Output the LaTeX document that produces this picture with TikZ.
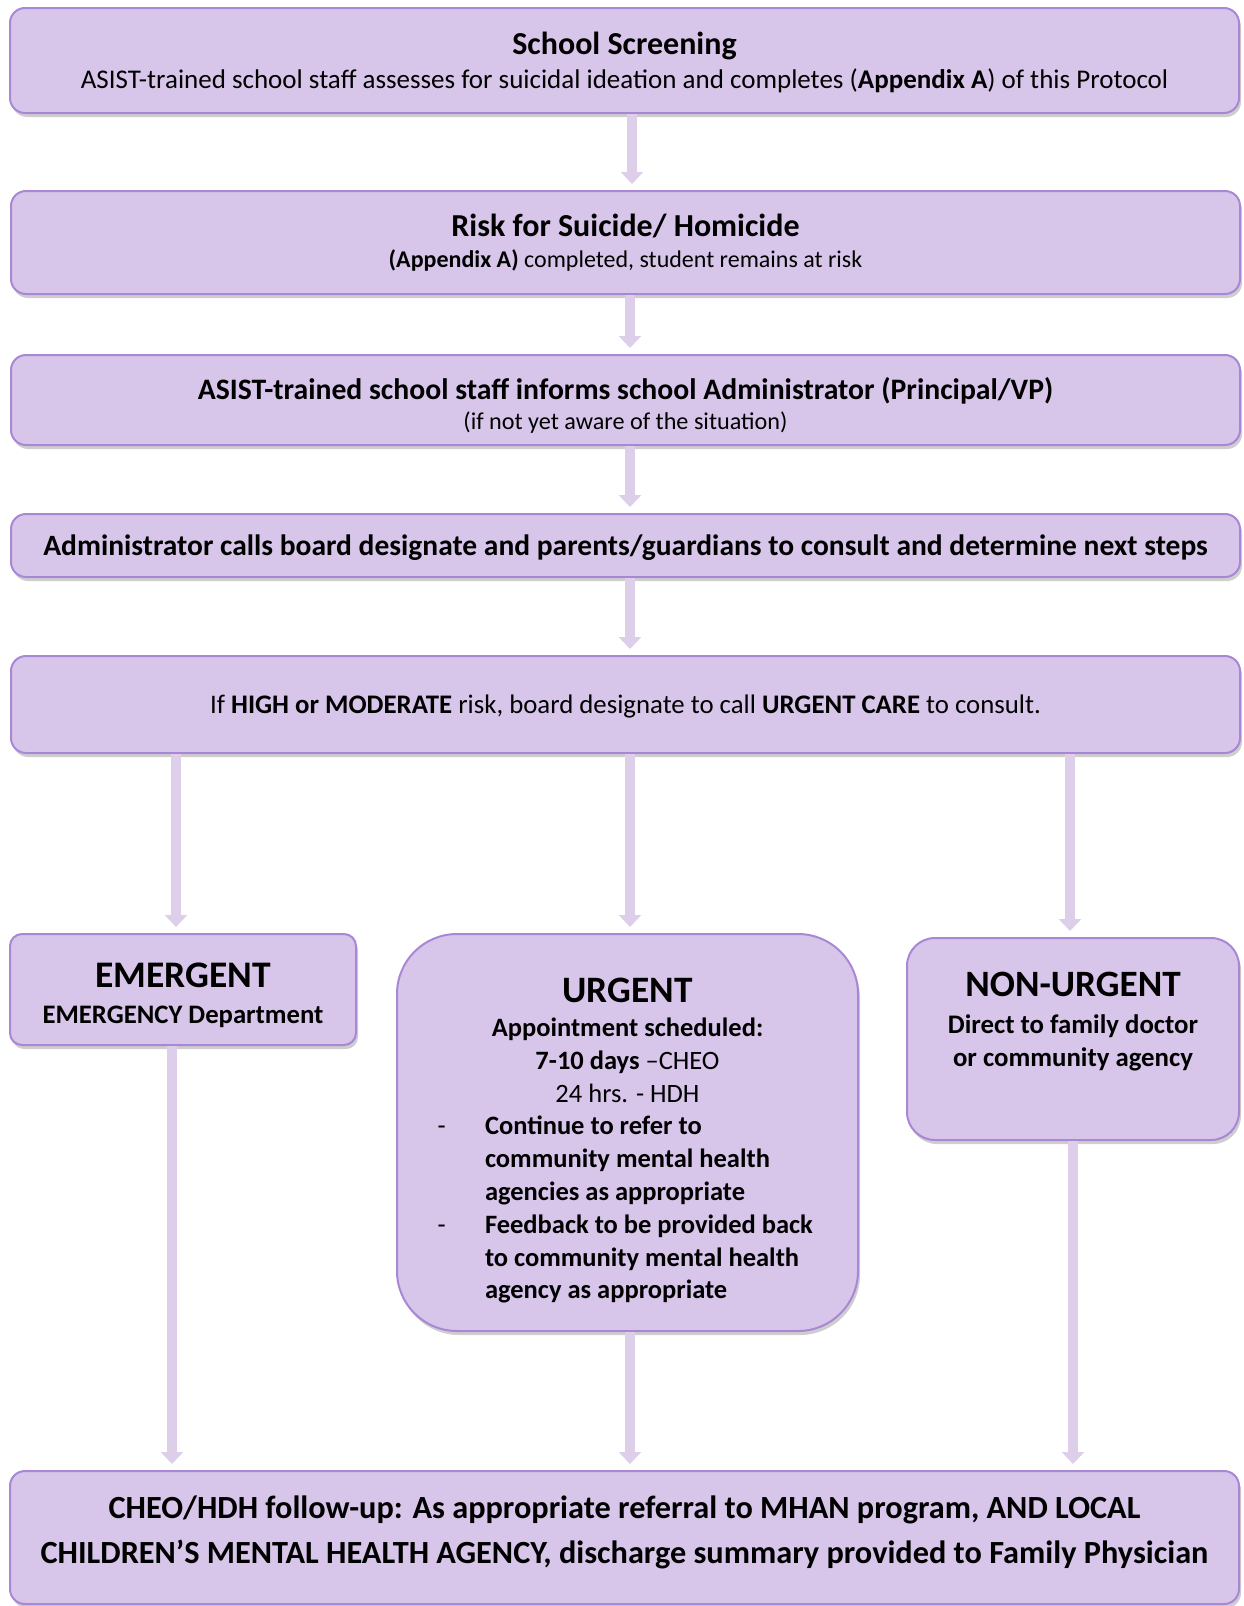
\documentclass[tikz,border=0pt]{standalone}
\usepackage{fontspec}
\setmainfont{Carlito}
\usetikzlibrary{arrows.meta,positioning,calc,shadows}

\definecolor{boxfill}{RGB}{215,198,234}
\definecolor{boxedge}{RGB}{168,136,212}
\definecolor{flowfill}{RGB}{221,207,233}

% dash items of the urgent box
\newcommand{\dashitem}[1]{\makebox[380pt][l]{\makebox[47.5pt][l]{-}\textbf{#1}}}
\newcommand{\contitem}[1]{\makebox[380pt][l]{\hspace{47.5pt}\textbf{#1}}}

\begin{document}
\begin{tikzpicture}[
  x=1pt, y=-1pt,
  box/.style={rectangle, draw=boxedge, line width=2pt, fill=boxfill,
    rounded corners=15pt, align=center, inner sep=0pt,
    drop shadow={shadow xshift=2pt, shadow yshift=-4pt, opacity=0.35, fill=black!55}},
  flow/.style={draw=flowfill, line width=10pt,
    -{Triangle[width=22pt,length=12pt]}, shorten >=6pt}
]
  \useasboundingbox (0,0) rectangle (1243,1606);

  % main column
  \node[box, minimum width=1229pt, minimum height=105pt,
        font=\fontsize{27}{34.4}\selectfont] (screen) at (624.5,60.5)
    {{\fontsize{32}{34}\selectfont\bfseries\rule{0pt}{26pt}School Screening}\\
     ASIST-trained school staff assesses for suicidal ideation and completes (\textbf{Appendix A}) of this Protocol};
  \node[box, minimum width=1229pt, minimum height=103pt,
        font=\fontsize{24}{31.4}\selectfont] (risk) at (625.5,242.5)
    {{\fontsize{32}{34}\selectfont\bfseries Risk for Suicide/ Homicide}\\
     \textbf{(Appendix A)} completed, student remains at risk};
  \node[box, minimum width=1229pt, minimum height=90pt,
        font=\fontsize{24.2}{30.2}\selectfont] (inform) at (625.5,400)
    {{\fontsize{29.7}{32}\selectfont\bfseries\rule{0pt}{33.5pt}ASIST-trained school staff informs school Administrator (Principal/VP)}\\
     (if not yet aware of the situation)};
  \node[box, minimum width=1229pt, minimum height=63pt,
        font=\fontsize{29.5}{34}\selectfont\bfseries] (consult) at (625.5,545.5)
    {\rule{0pt}{25pt}Administrator calls board designate and parents/guardians to consult and determine next steps};
  \node[box, minimum width=1229pt, minimum height=97pt,
        font=\fontsize{26.8}{32}\selectfont] (urgcare) at (625.5,704.5)
    {\rule{0pt}{23pt}If \textbf{HIGH or MODERATE} risk, board designate to call \textbf{URGENT CARE} to consult.};

  % three levels of risk
  \node[box, rounded corners=12pt, minimum width=346pt, minimum height=111pt,
        font=\fontsize{26.7}{33}\selectfont\bfseries] (emerg) at (183,989.5)
    {{\fontsize{37.5}{38}\selectfont\rule{0pt}{36.5pt}EMERGENT}\\[3.6pt]
     EMERGENCY Department};
  \node[box, rounded corners=60pt, minimum width=461pt, minimum height=397pt,
        font=\fontsize{26.5}{32.8}\selectfont] (urgent) at (627.5,1132.5)
    {{\fontsize{37.3}{38}\selectfont\bfseries\rule{0pt}{40.5pt}URGENT}\\[1.7pt]
     \textbf{Appointment scheduled:}\\
     \textbf{7-10 days} –CHEO\\
     24 hrs. - HDH\\
     \dashitem{Continue to refer to}\\
     \contitem{community mental health}\\
     \contitem{agencies as appropriate}\\
     \dashitem{Feedback to be provided back}\\
     \contitem{to community mental health}\\
     \contitem{agency as appropriate}};
  \node[box, rounded corners=28pt, minimum width=332pt, minimum height=202pt,
        font=\fontsize{26.8}{33}\selectfont\bfseries, text depth=40pt] (nonurg) at (1073,1039)
    {{\fontsize{37.2}{38}\selectfont NON-URGENT}\\[3.6pt]
     Direct to family doctor\\
     or community agency};

  % follow-up
  \node[box, minimum width=1229pt, minimum height=133pt,
        font=\fontsize{32.3}{45}\selectfont\bfseries] (follow) at (624.5,1537.5)
    {CHEO/HDH follow-up: As appropriate referral to MHAN program, AND LOCAL\\
     CHILDREN’S MENTAL HEALTH AGENCY, discharge summary provided to Family Physician\rule[-16pt]{0pt}{16pt}};

  % arrow columns
  \coordinate (colA) at (632,0);
  \coordinate (colB) at (630,0);
  \coordinate (colL) at (176,0);
  \coordinate (colR) at (1070,0);
  \coordinate (colLL) at (172,0);
  \coordinate (colRR) at (1073,0);

  \draw[flow] (screen.south -| colA) -- (risk.north -| colA);
  \foreach \from/\to in {risk/inform, inform/consult, consult/urgcare}
    \draw[flow] (\from.south -| colB) -- (\to.north -| colB);
  \foreach \to/\col in {emerg/colL, urgent/colB, nonurg/colR}
    \draw[flow] (urgcare.south -| \col) -- (\to.north -| \col);
  \foreach \from/\col in {emerg/colLL, urgent/colB, nonurg/colRR}
    \draw[flow] (\from.south -| \col) -- (follow.north -| \col);
\end{tikzpicture}
\end{document}
